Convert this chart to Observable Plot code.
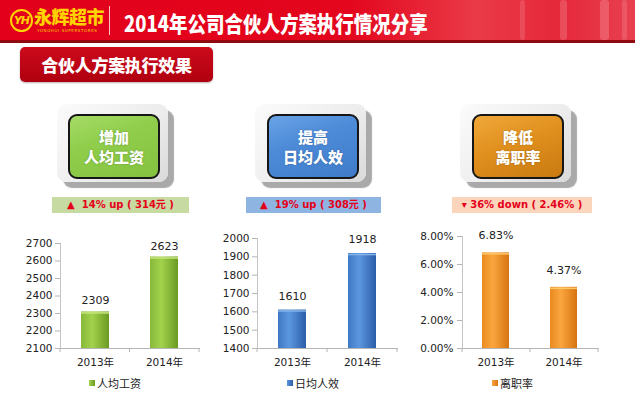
<!DOCTYPE html>
<html>
<head>
<meta charset="utf-8">
<script src="https://cdn.jsdelivr.net/npm/d3@7"></script>
<script src="https://cdn.jsdelivr.net/npm/@observablehq/plot@0.6"></script>
<style>
  html, body { margin: 0; padding: 0; background: #fff; }
  #slide { position: relative; width: 635px; height: 405px; overflow: hidden; background: #fff;
    font-family: "Noto Sans CJK SC", "DejaVu Sans", sans-serif; }
  .abs { position: absolute; }
  #header { left: 0; top: 0; width: 635px; height: 40px;
    background: linear-gradient(90deg, #e2001a 0%, #e3061d 55%, #ea3a48 75%, #e5283a 88%, #e84050 100%); }
  #headerLine { left: 0; top: 40px; width: 635px; height: 3px; background: #8e0a10; }
  .bamboo { position: absolute; background: rgba(255, 210, 210, 0.35); border-radius: 3px; }
  #logoCircle { left: 10px; top: 9px; width: 19px; height: 19px; border: 2px solid #ffd400; border-radius: 50%;
    color: #ffd400; font: italic bold 11px "DejaVu Sans", sans-serif; text-align: center; line-height: 19px; letter-spacing: -1px; }
  #logoText { left: 34px; top: 4px; color: #ffd400; font-weight: 900; font-size: 18px; letter-spacing: -0.5px; line-height: 24px; }
  #logoSub { left: 37px; top: 28px; color: #ffd400; font: 4px "DejaVu Sans", sans-serif; letter-spacing: 0.6px; }
  #sep { left: 109px; top: 6px; width: 1px; height: 29px; background: rgba(255,255,255,0.75); }
  #title { left: 124px; top: 8px; color: #fff; font-weight: 900; font-size: 22px; line-height: 28px;
    transform: scaleX(0.84); transform-origin: left center; white-space: nowrap; }
  #subBtn { left: 20px; top: 47px; width: 193px; height: 35px; border-radius: 5px;
    background: linear-gradient(#cc0a1c, #b0000f); box-shadow: 0 1px 2px rgba(0,0,0,0.3);
    color: #fff; font-weight: 900; font-size: 17px; line-height: 35px; text-align: center; letter-spacing: -0.3px; }
  .frame { position: absolute; width: 111px; height: 78px; border-radius: 9px;
    background: linear-gradient(135deg, #fbfbfb 0%, #ececec 60%, #d9d9d9 100%);
    box-shadow: 6px 6px 1px #a9a9a9; }
  .inner { position: absolute; width: 88px; height: 61px; border: 2px solid #161616; border-radius: 9px;
    color: #fff; font-weight: 900; font-size: 15px; line-height: 20px; text-align: center;
    display: flex; flex-direction: column; justify-content: center; text-shadow: 0 0 2px rgba(0,0,0,0.25); }
  .change { position: absolute; height: 16px; color: #e5001a; font: bold 10px "DejaVu Sans", "Noto Sans CJK SC", sans-serif;
    line-height: 16px; text-align: center; white-space: pre; }
  .chart { position: absolute; }
  .legend { position: absolute; font: 11px "Noto Sans CJK SC", sans-serif; color: #222; display: flex; align-items: center; }
  .legend i { display: inline-block; width: 6px; height: 6px; margin-right: 2px; }
</style>
</head>
<body>
<div id="slide">
  <div id="header" class="abs"></div>
  <div class="bamboo" style="left:520px;top:0;width:5px;height:40px;opacity:.5"></div>
  <div class="bamboo" style="left:560px;top:0;width:7px;height:40px;opacity:.6"></div>
  <div class="bamboo" style="left:600px;top:0;width:9px;height:40px;opacity:.7"></div>
  <div class="bamboo" style="left:622px;top:0;width:5px;height:40px;opacity:.5"></div>
  <div id="headerLine" class="abs"></div>
  <div id="logoCircle" class="abs">YH</div>
  <div id="logoText" class="abs">永辉超市</div>
  <div id="logoSub" class="abs">YONGHUI SUPERSTORES</div>
  <div id="sep" class="abs"></div>
  <div id="title" class="abs">2014年公司合伙人方案执行情况分享</div>
  <div id="subBtn" class="abs">合伙人方案执行效果</div>
</div>
<script>
// ---- data ----
const years = ["2013年", "2014年"];
const wageValues = [2309, 2623];
const effValues = [1610, 1918];
const turnoverValues = [0.0683, 0.0437];
const wageTicks = [2100, 2200, 2300, 2400, 2500, 2600, 2700];
const effTicks = [1400, 1500, 1600, 1700, 1800, 1900, 2000];
const turnoverTicks = [0, 0.02, 0.04, 0.06, 0.08];
const seriesNames = ["人均工资", "日均人效", "离职率"];
const boxTitles = [["增加", "人均工资"], ["提高", "日均人效"], ["降低", "离职率"]];
const changeLabels = ["▲  14% up ( 314元 )", "▲  19% up ( 308元 )", "▾ 36% down ( 2.46% )"];

// ---- styling / layout ----
const palettes = [
  {box: "linear-gradient(160deg,#a6dc66 0%,#8fcd4b 40%,#84c240 100%)", band: "#c6daa2",
   bar: ["#86b83a", "#a3d24c", "#6a9a22"], cap: "#c8e67e"},
  {box: "linear-gradient(160deg,#6aa3e6 0%,#4d8bd8 40%,#3f7bc9 100%)", band: "#8eb4e2",
   bar: ["#3f78c4", "#5b97de", "#2b5ea8"], cap: "#86b4ea"},
  {box: "linear-gradient(160deg,#f0a83a 0%,#e0901e 45%,#c97a10 100%)", band: "#fbd5bb",
   bar: ["#e98a1e", "#faa640", "#d67410"], cap: "#ffc766"}
];
const frames = [{x: 57, y: 104}, {x: 255, y: 104}, {x: 460, y: 104}];
const inners = [{x: 68, y: 114}, {x: 267, y: 114}, {x: 472, y: 114}];
const bands = [{x: 52, w: 137}, {x: 246, w: 135}, {x: 452, w: 140}];
const slide = document.getElementById("slide");

boxTitles.forEach((lines, i) => {
  const f = document.createElement("div");
  f.className = "frame"; f.style.left = frames[i].x + "px"; f.style.top = frames[i].y + "px";
  slide.appendChild(f);
  const b = document.createElement("div");
  b.className = "inner"; b.style.left = inners[i].x + "px"; b.style.top = inners[i].y + "px";
  b.style.background = palettes[i].box;
  lines.forEach(t => { const s = document.createElement("div"); s.textContent = t; b.appendChild(s); });
  slide.appendChild(b);
  const c = document.createElement("div");
  c.className = "change"; c.style.left = bands[i].x + "px"; c.style.top = "197px";
  c.style.width = bands[i].w + "px"; c.style.background = palettes[i].band;
  c.textContent = changeLabels[i];
  slide.appendChild(c);
});

function makeChart({id, values, ticks, fmt, pal, width, height, ml, mt, mr, mb, dy, tickPad}) {
  const data = years.map((y, i) => ({year: y, value: values[i]}));
  const ns = "http://www.w3.org/2000/svg";
  const defs = () => {
    const d = document.createElementNS(ns, "defs");
    d.innerHTML = `<linearGradient id="${id}" x1="0" x2="1" y1="0" y2="0">
      <stop offset="0" stop-color="${pal.bar[0]}"/><stop offset="0.4" stop-color="${pal.bar[1]}"/>
      <stop offset="1" stop-color="${pal.bar[2]}"/></linearGradient>`;
    return d;
  };
  const catTicks = (index, scales, vals, dims) => {
    const g = document.createElementNS(ns, "g");
    const x0 = dims.marginLeft, x1 = dims.width - dims.marginRight, yb = dims.height - dims.marginBottom;
    [x0, (x0 + x1) / 2, x1].forEach(x => {
      const l = document.createElementNS(ns, "line");
      l.setAttribute("x1", x); l.setAttribute("x2", x);
      l.setAttribute("y1", yb); l.setAttribute("y2", yb + 4);
      l.setAttribute("stroke", "#b5b5b5");
      g.appendChild(l);
    });
    return g;
  };
  return Plot.plot({
    width, height, marginLeft: ml, marginTop: mt, marginRight: mr, marginBottom: mb,
    style: {fontFamily: "'DejaVu Sans', 'Noto Sans CJK SC', sans-serif", fontSize: "10.5px", background: "transparent", color: "#222"},
    x: {domain: years, paddingInner: 0.6, paddingOuter: 0.3, axis: null},
    y: {domain: [ticks[0], ticks[ticks.length - 1]], axis: null},
    marks: [
      defs,
      Plot.axisY({ticks, tickFormat: fmt, tickSize: 5, tickPadding: tickPad, stroke: "#b5b5b5", fill: "#222", label: null}),
      Plot.axisX({tickSize: 0, tickPadding: 10, fill: "#222", label: null}),
      Plot.frame({anchor: "left", stroke: "#c4c4c4"}),
      Plot.frame({anchor: "bottom", stroke: "#b5b5b5"}),
      catTicks,
      Plot.barY(data, {x: "year", y1: ticks[0], y2: "value", fill: `url(#${id})`}),
      Plot.tickY(data, {x: "year", y: "value", stroke: pal.cap, strokeWidth: 1.5, dy: 1}),
      Plot.text(data, {x: "year", y: "value", text: d => fmt(d.value), dy, fill: "#222", fontSize: 11})
    ]
  });
}

const charts = [
  {left: 0, top: 225, opts: {id: "gWage", values: wageValues, ticks: wageTicks, fmt: d3.format("d"), pal: palettes[0],
    width: 210, height: 150, ml: 60, mt: 18, mr: 11, mb: 27, dy: -11, tickPad: 3}},
  {left: 210, top: 225, opts: {id: "gEff", values: effValues, ticks: effTicks, fmt: d3.format("d"), pal: palettes[1],
    width: 200, height: 150, ml: 47, mt: 13, mr: 13, mb: 27, dy: -14, tickPad: 3}},
  {left: 410, top: 225, opts: {id: "gTurn", values: turnoverValues, ticks: turnoverTicks, fmt: d3.format(".2%"), pal: palettes[2],
    width: 200, height: 150, ml: 52, mt: 11, mr: 12, mb: 27, dy: -17, tickPad: 4}}
];
charts.forEach(c => {
  const svg = makeChart(c.opts);
  const wrap = document.createElement("div");
  wrap.className = "chart"; wrap.style.left = c.left + "px"; wrap.style.top = c.top + "px";
  wrap.appendChild(svg);
  slide.appendChild(wrap);
});

const legendPos = [{x: 89, y: 375}, {x: 287, y: 375}, {x: 492, y: 375}];
seriesNames.forEach((name, i) => {
  const lg = document.createElement("div");
  lg.className = "legend"; lg.style.left = legendPos[i].x + "px"; lg.style.top = legendPos[i].y + "px";
  const sw = document.createElement("i");
  sw.style.background = `linear-gradient(90deg, ${palettes[i].bar[1]}, ${palettes[i].bar[2]})`;
  lg.appendChild(sw);
  lg.appendChild(document.createTextNode(name));
  slide.appendChild(lg);
});
</script>
</body>
</html>
